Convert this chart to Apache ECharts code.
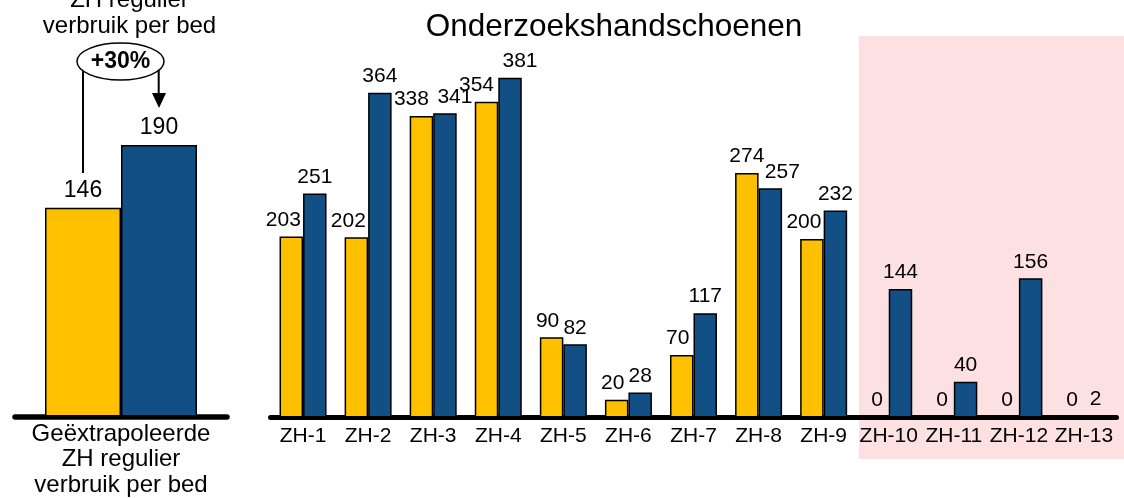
<!DOCTYPE html>
<html>
<head>
<meta charset="utf-8">
<script src="https://cdn.jsdelivr.net/npm/echarts@6/dist/echarts.min.js"></script>
<style>
  html, body { margin: 0; padding: 0; background: #fff; }
  #chart { width: 1124px; height: 498px; }
</style>
</head>
<body>
<div id="chart"></div>
<script>
// Gloves usage per hospital (ZH-1 .. ZH-13), two measurements per hospital
const chartTitle = 'Onderzoekshandschoenen';
const categories = ['ZH-1', 'ZH-2', 'ZH-3', 'ZH-4', 'ZH-5', 'ZH-6', 'ZH-7',
                    'ZH-8', 'ZH-9', 'ZH-10', 'ZH-11', 'ZH-12', 'ZH-13'];
const yellowValues = [203, 202, 338, 354, 90, 20, 70, 274, 200, 0, 0, 0, 0];
const blueValues   = [251, 364, 341, 381, 82, 28, 117, 257, 232, 144, 40, 156, 2];

// Reference panel: extrapolated regular usage per bed
const refCategory = ['Geëxtrapoleerde\nZH regulier\nverbruik per bed'];
const refYellow = [146];
const refBlue = [190];
const refHeading = 'ZH regulier\nverbruik per bed';
const growthText = '+30%';

const YELLOW = '#FFC000';
const BLUE = '#124F85';
const FONT = '"Liberation Sans", Arial, sans-serif';

const chart = echarts.init(document.getElementById('chart'), null, { renderer: 'canvas' });

// Nudge value labels sideways so the two labels of a pair stay apart
const RIGHT_MAX = 400;
const RIGHT_PX_PER_UNIT = 356.8 / RIGHT_MAX;
function pairOffsets(i) {
  const a = yellowValues[i], b = blueValues[i];
  const wide = String(a).length >= 3 && String(b).length >= 3;
  const close = Math.abs(a - b) * RIGHT_PX_PER_UNIT < 26;
  if (wide && close) return a < b ? [-10, 10] : [0, 12];
  return [-(String(a).length - 1) * 4, 0];
}

function barData(values, which) {
  return values.map((v, i) => ({
    value: v,
    label: { offset: [pairOffsets(i)[which], 0] }
  }));
}

const barStyle = (color) => ({ color: color, borderColor: '#000', borderWidth: 1.5 });
const valueLabel = (size) => ({
  show: true, position: 'top', distance: 6,
  color: '#000', fontFamily: FONT, fontSize: size
});

const option = {
  animation: false,
  backgroundColor: '#fff',
  grid: [
    { left: 15, width: 212, top: 59.25, height: 359.75 },
    { left: 270.5, width: 846, top: 60.7, height: 356.8 }
  ],
  xAxis: [
    {
      gridIndex: 0, type: 'category', data: refCategory,
      axisLine: { lineStyle: { color: '#000', width: 5.5 } },
      axisTick: { show: false },
      axisLabel: { color: '#000', fontFamily: FONT, fontSize: 24, lineHeight: 25.5, margin: 5, interval: 0 }
    },
    {
      gridIndex: 1, type: 'category', data: categories,
      axisLine: { lineStyle: { color: '#000', width: 5 } },
      axisTick: { show: false },
      axisLabel: { color: '#000', fontFamily: FONT, fontSize: 21, margin: 8, interval: 0 }
    }
  ],
  yAxis: [
    { gridIndex: 0, type: 'value', min: 0, max: 250, show: false, splitLine: { show: false } },
    { gridIndex: 1, type: 'value', min: 0, max: RIGHT_MAX, show: false, splitLine: { show: false } }
  ],
  series: [
    {
      type: 'bar', xAxisIndex: 0, yAxisIndex: 0, data: refYellow,
      barWidth: 76, barGap: '0%', itemStyle: barStyle(YELLOW), label: valueLabel(23)
    },
    {
      type: 'bar', xAxisIndex: 0, yAxisIndex: 0, data: refBlue,
      barWidth: 76, barGap: '0%', itemStyle: barStyle(BLUE), label: valueLabel(23)
    },
    {
      type: 'bar', xAxisIndex: 1, yAxisIndex: 1, data: barData(yellowValues, 0),
      barWidth: 23.5, barGap: '0%', itemStyle: barStyle(YELLOW), label: valueLabel(21)
    },
    {
      type: 'bar', xAxisIndex: 1, yAxisIndex: 1, data: barData(blueValues, 1),
      barWidth: 23.5, barGap: '0%', itemStyle: barStyle(BLUE), label: valueLabel(21)
    }
  ],
  graphic: [
    // shaded block behind the last four hospitals
    { type: 'rect', z: -10, silent: true,
      shape: { x: 859, y: 36, width: 265, height: 423 },
      style: { fill: '#FDE1E2' } },
    { type: 'text', x: 614, y: 27, silent: true,
      style: { text: chartTitle, fill: '#000', font: '31.5px ' + FONT,
               textAlign: 'center', textVerticalAlign: 'middle' } },
    { type: 'text', x: 129.5, y: 13, silent: true,
      style: { text: refHeading, fill: '#000', font: '24px ' + FONT, lineHeight: 26,
               textAlign: 'center', textVerticalAlign: 'middle' } },
    // growth callout
    { type: 'line', silent: true,
      shape: { x1: 83, y1: 70, x2: 83, y2: 173 },
      style: { stroke: '#000', lineWidth: 2 } },
    { type: 'line', silent: true,
      shape: { x1: 158.7, y1: 70, x2: 158.7, y2: 95 },
      style: { stroke: '#000', lineWidth: 2 } },
    { type: 'polygon', silent: true,
      shape: { points: [[152, 93], [166, 93], [159, 108]] },
      style: { fill: '#000' } },
    { type: 'ellipse', silent: true,
      shape: { cx: 120.5, cy: 61.5, rx: 43.5, ry: 18.5 },
      style: { fill: '#fff', stroke: '#000', lineWidth: 1.5 } },
    { type: 'text', x: 120.5, y: 62, silent: true,
      style: { text: growthText, fill: '#000', font: 'bold 23px ' + FONT,
               textAlign: 'center', textVerticalAlign: 'middle' } }
  ]
};

chart.setOption(option);
</script>
</body>
</html>
